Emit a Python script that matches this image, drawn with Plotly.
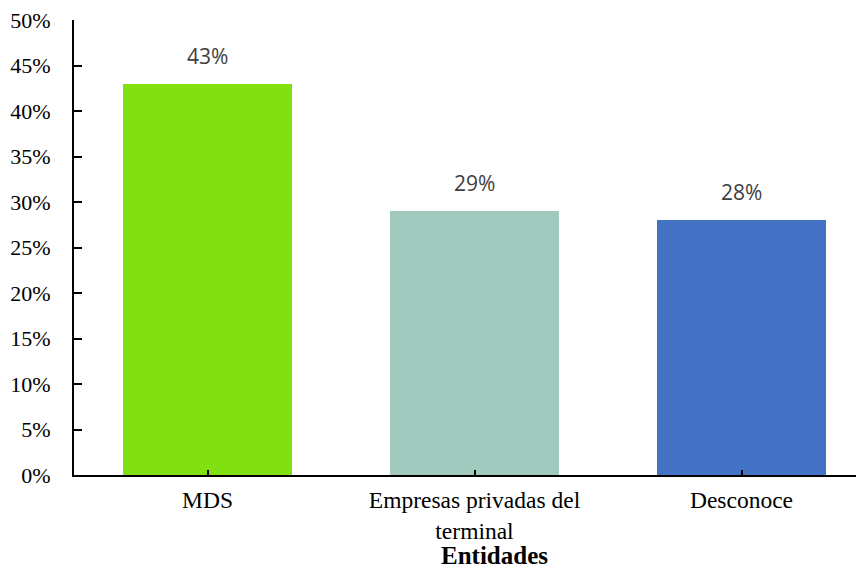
import plotly.graph_objects as go

categories = ["MDS", "Empresas privadas del<br>terminal", "Desconoce"]
values = [0.43, 0.29, 0.28]
colors = ["#82E012", "#9FCABD", "#4472C4"]
tick_vals = [0, 0.05, 0.10, 0.15, 0.20, 0.25, 0.30, 0.35, 0.40, 0.45, 0.50]
tick_text = ["0%", "5%", "10%", "15%", "20%", "25%", "30%", "35%", "40%", "45%", "50%"]
label_text = ["43%", "29%", "28%"]

fig = go.Figure()
fig.add_trace(go.Bar(
    x=list(range(len(categories))), y=values,
    marker=dict(color=colors, line=dict(width=0)),
    width=0.633,
    hoverinfo="skip",
))

for i, (v, t) in enumerate(zip(values, label_text)):
    fig.add_annotation(x=i, y=v, text=t, showarrow=False, yanchor="bottom",
                       yshift=12, font=dict(family="Open Sans", size=21, color="#404040"))

fig.add_annotation(x=(495 - 74) / 790, xref="paper", y=-0.176, yref="paper",
                   text="<b>Entidades</b>", showarrow=False, yanchor="middle",
                   font=dict(family="Liberation Serif", size=25, color="black"))

fig.update_layout(
    width=856, height=560,
    margin=dict(l=66, r=0, t=12, b=93),
    paper_bgcolor="white", plot_bgcolor="white",
    showlegend=False,
    font=dict(family="Liberation Serif", size=23, color="black"),
    bargap=0,
)
fig.update_xaxes(
    range=[-0.5, 790 / 267 - 0.5],
    tickvals=list(range(len(categories))), ticktext=categories,
    showline=True, linecolor="black", linewidth=2,
    ticks="inside", ticklen=5, tickwidth=1.5, tickcolor="black",
    showgrid=False, zeroline=False, automargin=False,
    tickfont=dict(family="Liberation Serif", size=23.5, color="black"),
    ticklabelstandoff=3,
)
fig.update_yaxes(
    range=[0, 0.5],
    tickvals=tick_vals, ticktext=tick_text,
    showline=True, linecolor="black", linewidth=2,
    ticks="inside", ticklen=8, tickwidth=1.5, tickcolor="black",
    showgrid=False, zeroline=False, automargin=False,
    ticklabeloverflow="allow",
    tickfont=dict(family="Liberation Serif", size=22, color="black"),
    ticklabelstandoff=17,
)

fig.write_html("out.html")
